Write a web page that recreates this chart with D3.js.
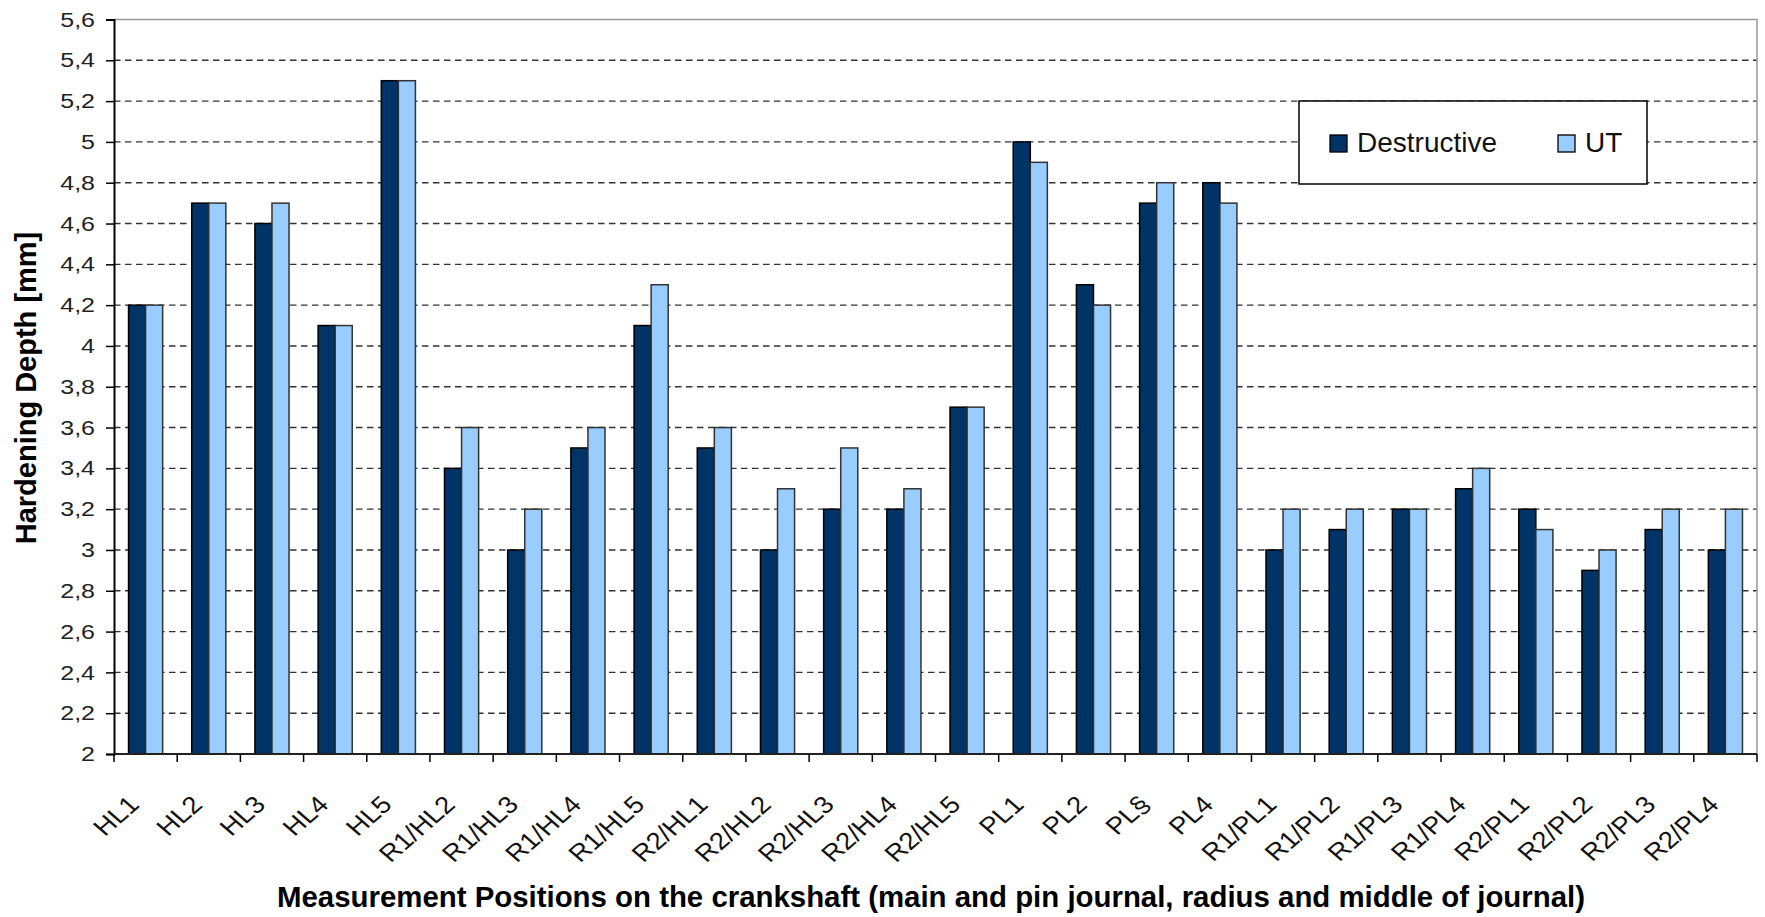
<!DOCTYPE html>
<html>
<head>
<meta charset="utf-8">
<title>Hardening Depth</title>
<script src="https://cdn.jsdelivr.net/npm/d3@7"></script>
<style>
  body { margin: 0; background: #fff; }
  svg { display: block; font-family: "Liberation Sans", Arial, sans-serif; }
</style>
</head>
<body>
<script>
// data
var categories = ["HL1", "HL2", "HL3", "HL4", "HL5",
  "R1/HL2", "R1/HL3", "R1/HL4", "R1/HL5",
  "R2/HL1", "R2/HL2", "R2/HL3", "R2/HL4", "R2/HL5",
  "PL1", "PL2", "PL§", "PL4",
  "R1/PL1", "R1/PL2", "R1/PL3", "R1/PL4",
  "R2/PL1", "R2/PL2", "R2/PL3", "R2/PL4"];
var destructive = [4.2, 4.7, 4.6, 4.1, 5.3, 3.4, 3.0, 3.5, 4.1, 3.5, 3.0, 3.2, 3.2, 3.7,
  5.0, 4.3, 4.7, 4.8, 3.0, 3.1, 3.2, 3.3, 3.2, 2.9, 3.1, 3.0];
var ut = [4.2, 4.7, 4.7, 4.1, 5.3, 3.6, 3.2, 3.6, 4.3, 3.6, 3.3, 3.5, 3.3, 3.7,
  4.9, 4.2, 4.8, 4.7, 3.2, 3.2, 3.2, 3.4, 3.1, 3.0, 3.2, 3.2];
var seriesNames = ["Destructive", "UT"];
var seriesColors = ["#003366", "#99ccff"];
var yTicks = [2, 2.2, 2.4, 2.6, 2.8, 3, 3.2, 3.4, 3.6, 3.8, 4, 4.2, 4.4, 4.6, 4.8, 5, 5.2, 5.4, 5.6];

var W = 1765, H = 917;
var pLeft = 114, pRight = 1757, pTop = 19.5, pBottom = 754;

var svg = d3.select("body").append("svg")
  .attr("width", W).attr("height", H);

var x = d3.scaleBand().domain(categories).range([pLeft, pRight])
  .paddingInner(0.46).paddingOuter(0.23);
var x1 = d3.scaleBand().domain(seriesNames).range([0, x.bandwidth()]);
var y = d3.scaleLinear().domain([2, 5.6]).range([pBottom, pTop]);

var rows = categories.map(function(c, i) {
  return { cat: c, vals: [destructive[i], ut[i]] };
});

// grid lines (dashed)
svg.append("g").selectAll("line")
  .data(yTicks.filter(function(t) { return t > 2 && t < 5.6; }))
  .enter().append("line")
  .attr("x1", pLeft).attr("x2", pRight)
  .attr("y1", function(d) { return y(d); })
  .attr("y2", function(d) { return y(d); })
  .attr("stroke", "#333").attr("stroke-width", 1.4)
  .attr("stroke-dasharray", "6.5,4.5");

// plot border top / right
svg.append("path")
  .attr("d", "M" + pLeft + "," + y(5.6) + "H" + pRight + "V" + pBottom)
  .attr("fill", "none").attr("stroke", "#999").attr("stroke-width", 1.5);

// bars
var groups = svg.append("g").selectAll("g")
  .data(rows).enter().append("g")
  .attr("transform", function(d) { return "translate(" + x(d.cat) + ",0)"; });

groups.selectAll("rect")
  .data(function(d) { return d.vals.map(function(v, k) { return { v: v, k: k }; }); })
  .enter().append("rect")
  .attr("x", function(d) { return x1(seriesNames[d.k]); })
  .attr("width", x1.bandwidth())
  .attr("y", function(d) { return y(d.v); })
  .attr("height", function(d) { return y(2) - y(d.v); })
  .attr("fill", function(d) { return seriesColors[d.k]; })
  .attr("stroke", function(d) { return d.k == 0 ? "#000" : "#333"; })
  .attr("stroke-width", 1.5);

// y axis
var yAxis = svg.append("g")
  .attr("transform", "translate(" + pLeft + ",0)")
  .call(d3.axisLeft(y).tickValues(yTicks).tickSize(8).tickPadding(0)
    .tickFormat(function(d) { return String(+d.toFixed(1)).replace(".", ","); }));
yAxis.select(".domain").attr("stroke", "#000").attr("stroke-width", 2);
yAxis.selectAll(".tick line").attr("stroke", "#000").attr("stroke-width", 1.5);
yAxis.selectAll(".tick text")
  .attr("x", null).attr("dy", null)
  .attr("text-anchor", "end")
  .attr("dominant-baseline", "central")
  .attr("font-size", 20).attr("fill", "#222")
  .attr("transform", "translate(-19,0) scale(1.25,1)");

// x axis: ticks on category boundaries
var step = x.step();
var edges = categories.map(function(c) { return x(c) - (step - x.bandwidth()) / 2; });
edges.push(pRight);
svg.append("line")
  .attr("x1", pLeft).attr("x2", pRight).attr("y1", pBottom).attr("y2", pBottom)
  .attr("stroke", "#222").attr("stroke-width", 2);
svg.append("g").selectAll("line").data(edges).enter().append("line")
  .attr("x1", function(d) { return d; }).attr("x2", function(d) { return d; })
  .attr("y1", pBottom).attr("y2", pBottom + 8)
  .attr("stroke", "#000").attr("stroke-width", 1.5);

svg.append("g").selectAll("text").data(categories).enter().append("text")
  .attr("transform", function(d) {
    return "translate(" + (x(d) + x.bandwidth() / 2 - 5) + "," + (pBottom + 52) + ") scale(1.15,1) rotate(-45)";
  })
  .attr("text-anchor", "end")
  .attr("font-size", 24).attr("fill", "#111")
  .text(function(d) { return d; });

// axis titles
svg.append("text")
  .attr("x", 931).attr("y", 907)
  .attr("text-anchor", "middle")
  .attr("font-size", 29).attr("font-weight", "bold")
  .attr("textLength", 1308).attr("lengthAdjust", "spacingAndGlyphs")
  .text("Measurement Positions on the crankshaft (main and pin journal, radius and middle of journal)");

svg.append("text")
  .attr("transform", "translate(36,388) rotate(-90)")
  .attr("text-anchor", "middle")
  .attr("font-size", 29).attr("font-weight", "bold")
  .text("Hardening Depth [mm]");

// legend
var lg = svg.append("g").attr("transform", "translate(1299,101)");
lg.append("rect").attr("width", 348).attr("height", 83)
  .attr("fill", "#fff").attr("stroke", "#000").attr("stroke-width", 1.5);
var items = lg.selectAll("g.item").data(seriesNames).enter().append("g")
  .attr("transform", function(d, i) { return "translate(" + (i == 0 ? 31 : 259) + ",34)"; });
items.append("rect").attr("width", 17).attr("height", 17)
  .attr("fill", function(d, i) { return seriesColors[i]; })
  .attr("stroke", "#000").attr("stroke-width", 1.3);
items.append("text").attr("x", 27).attr("y", 17)
  .attr("font-size", 28).attr("fill", "#111")
  .text(function(d) { return d; });
</script>
</body>
</html>
